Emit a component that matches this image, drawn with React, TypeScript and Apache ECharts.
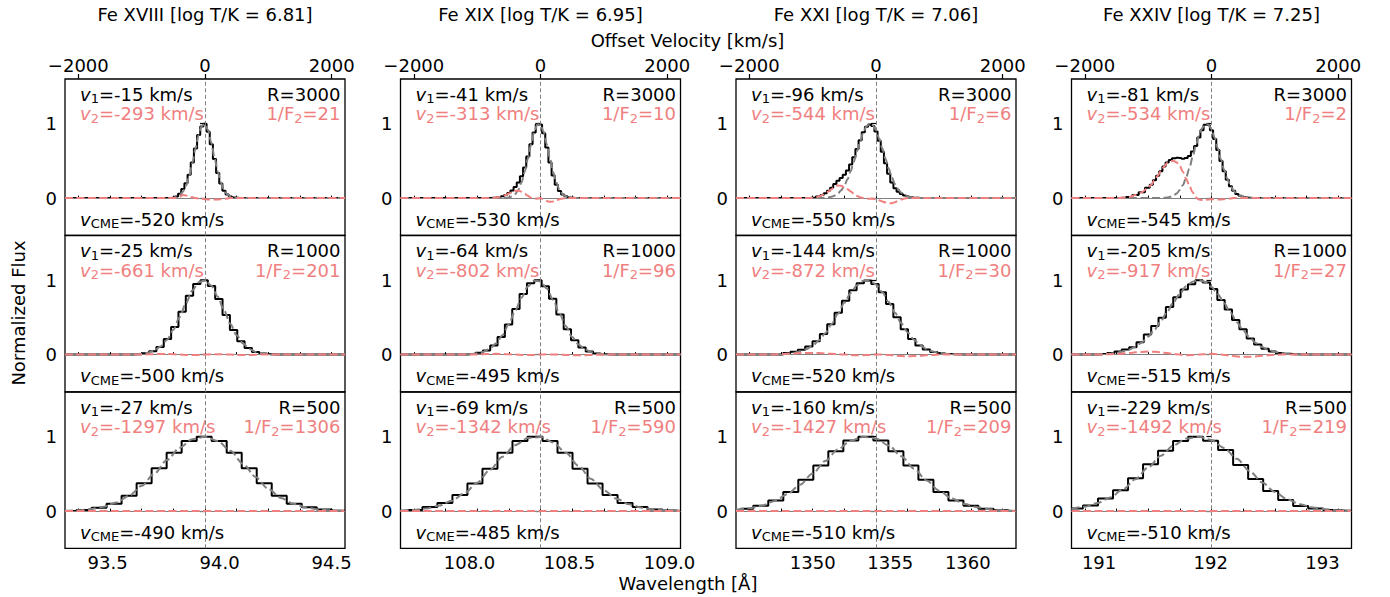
import React, { useEffect, useRef } from "react";
import * as echarts from "echarts";

const FONT = "'DejaVu Sans', sans-serif";
const RED = "#F08080";
const GRAY = "#808080";

// ---- layout ----
const PANEL_LEFT = [65, 400.5, 736, 1071.5];
const PANEL_TOP = [79, 235.5, 392];
const PANEL_W = 280;
const PANEL_H = 156.3;

// ---- axes ----
const V_MIN = -2210;
const V_MAX = 2210;
const Y_MIN = -0.5;
const Y_MAX = 1.6;
const velocityLabelTicks = [-2000, 0, 2000];
const velocityMinorTicks = [-2000, -1500, -1000, -500, 0, 500, 1000, 1500, 2000];
const fluxTicks = [0, 1];

const ionTitles = [
  "Fe XVIII [log T/K = 6.81]",
  "Fe XIX [log T/K = 6.95]",
  "Fe XXI [log T/K = 7.06]",
  "Fe XXIV [log T/K = 7.25]",
];
const waveMin = [93.31, 107.655, 1345.05, 190.753];
const waveMax = [94.56, 109.055, 1363.11, 193.26];
const waveTicks = [
  [93.5, 94.0, 94.5],
  [108.0, 108.5, 109.0],
  [1350, 1355, 1360],
  [191, 192, 193],
];
const waveDecimals = [1, 1, 0, 0];

// ---- annotations ----
const v1Values = [
  [-15, -41, -96, -81],
  [-25, -64, -144, -205],
  [-27, -69, -160, -229],
];
const v2Values = [
  [-293, -313, -544, -534],
  [-661, -802, -872, -917],
  [-1297, -1342, -1427, -1492],
];
const resolutions = [3000, 1000, 500];
const invF2Values = [
  [21, 10, 6, 2],
  [201, 96, 30, 27],
  [1306, 590, 209, 219],
];
const vCmeValues = [
  [-520, -530, -550, -545],
  [-500, -495, -520, -515],
  [-490, -485, -510, -510],
];

// ---- row 1 (R=3000) ----
const r1c1V = [-600, -550, -500, -450, -400, -350, -300, -250, -200, -150, -100, -50, 0, 50, 100, 150, 200, 250, 300, 350, 400, 450, 500, 550, 600];
const r1c1Black = [0, 0.002, 0.005, 0.02, 0.057, 0.123, 0.199, 0.312, 0.478, 0.667, 0.847, 0.963, 1.0, 0.891, 0.725, 0.526, 0.338, 0.195, 0.1, 0.047, 0.022, 0.008, 0.003, 0.001, 0];
const r1c1Gray = [0, 0.002, 0.005, 0.015, 0.037, 0.083, 0.164, 0.292, 0.468, 0.667, 0.852, 0.973, 0.995, 0.911, 0.745, 0.546, 0.358, 0.21, 0.11, 0.052, 0.022, 0.008, 0.003, 0.001, 0];
const r1c1Red = [0, 0, 0, 0.005, 0.02, 0.04, 0.035, 0.02, 0.01, 0, -0.005, -0.01, -0.015, -0.02, -0.02, -0.02, -0.02, -0.015, -0.01, -0.005, 0, 0, 0, 0, 0];

const r1c2V = [-800, -750, -700, -650, -600, -550, -500, -450, -400, -350, -300, -250, -200, -150, -100, -50, 0, 50, 100, 150, 200, 250, 300, 350, 400, 450, 500, 550, 600];
const r1c2Black = [0, 0.003, 0.008, 0.015, 0.026, 0.043, 0.069, 0.103, 0.148, 0.21, 0.293, 0.41, 0.558, 0.725, 0.88, 0.99, 0.99, 0.87, 0.68, 0.478, 0.305, 0.178, 0.095, 0.048, 0.023, 0.009, 0.003, 0.001, 0];
const r1c2Gray = [0, 0, 0, 0, 0.001, 0.003, 0.009, 0.023, 0.053, 0.11, 0.208, 0.35, 0.528, 0.72, 0.89, 0.987, 0.987, 0.89, 0.72, 0.528, 0.35, 0.208, 0.11, 0.053, 0.023, 0.009, 0.003, 0.001, 0];
const r1c2Red = [0, 0.003, 0.008, 0.015, 0.025, 0.04, 0.06, 0.08, 0.095, 0.1, 0.085, 0.06, 0.03, 0.005, -0.01, -0.005, 0, -0.02, -0.04, -0.05, -0.045, -0.03, -0.015, -0.005, 0, 0, 0, 0, 0];

const r1c3V = [-1100, -1000, -900, -850, -800, -750, -700, -650, -600, -550, -500, -450, -400, -350, -300, -250, -200, -150, -100, -50, 0, 50, 100, 150, 200, 250, 300, 350, 400, 450, 500, 550, 600, 650, 700, 750];
const r1c3Black = [0, 0.005, 0.021, 0.042, 0.064, 0.099, 0.138, 0.19, 0.232, 0.269, 0.312, 0.372, 0.45, 0.547, 0.66, 0.776, 0.883, 0.96, 0.99, 0.97, 0.896, 0.77, 0.622, 0.468, 0.326, 0.21, 0.132, 0.084, 0.054, 0.035, 0.022, 0.011, 0.006, 0.003, 0.001, 0];
const r1c3Gray = [0, 0, 0.001, 0.002, 0.004, 0.009, 0.018, 0.035, 0.062, 0.104, 0.167, 0.252, 0.36, 0.487, 0.63, 0.766, 0.883, 0.965, 1.0, 0.98, 0.911, 0.8, 0.667, 0.528, 0.396, 0.278, 0.187, 0.119, 0.072, 0.041, 0.022, 0.011, 0.006, 0.003, 0.001, 0];
const r1c3Red = [0, 0.005, 0.02, 0.04, 0.06, 0.09, 0.12, 0.155, 0.17, 0.165, 0.145, 0.12, 0.09, 0.06, 0.03, 0.01, 0, -0.005, -0.01, -0.01, -0.015, -0.03, -0.045, -0.06, -0.07, -0.068, -0.055, -0.035, -0.018, -0.006, 0, 0, 0, 0, 0, 0];

const r1c4V = [-1500, -1400, -1300, -1200, -1100, -1000, -950, -900, -850, -800, -750, -700, -650, -600, -550, -500, -450, -400, -350, -300, -250, -200, -150, -100, -50, 0, 50, 100, 150, 200, 250, 300, 350, 400, 450, 500, 550, 600, 650, 700];
const r1c4Black = [0, 0.005, 0.015, 0.04, 0.08, 0.14, 0.18, 0.24, 0.301, 0.362, 0.424, 0.478, 0.512, 0.534, 0.542, 0.54, 0.527, 0.538, 0.566, 0.626, 0.7, 0.815, 0.912, 0.985, 0.98, 0.91, 0.795, 0.647, 0.498, 0.362, 0.247, 0.16, 0.099, 0.056, 0.03, 0.015, 0.007, 0.003, 0.001, 0];
const r1c4Gray = [0, 0, 0, 0, 0, 0, 0, 0, 0.001, 0.002, 0.004, 0.008, 0.017, 0.034, 0.062, 0.11, 0.177, 0.278, 0.396, 0.546, 0.691, 0.835, 0.937, 0.995, 0.989, 0.925, 0.81, 0.667, 0.518, 0.377, 0.257, 0.165, 0.099, 0.056, 0.03, 0.015, 0.007, 0.003, 0.001, 0];
const r1c4Red = [0, 0.005, 0.015, 0.04, 0.08, 0.14, 0.18, 0.24, 0.3, 0.36, 0.42, 0.47, 0.495, 0.5, 0.48, 0.43, 0.35, 0.26, 0.17, 0.08, 0.01, -0.02, -0.025, -0.025, -0.02, -0.015, -0.015, -0.02, -0.02, -0.015, -0.01, -0.005, 0, 0, 0, 0, 0, 0, 0, 0];

// ---- row 2 (R=1000) ----
const r2BinsC1 = [-1057, -941, -825, -709, -593, -477, -361, -245, -129, -13, 103, 219, 335, 451, 567, 683, 799, 915, 1031];
const r2FluxC1 = [0.005, 0.017, 0.044, 0.101, 0.208, 0.37, 0.576, 0.789, 0.949, 0.999, 0.923, 0.748, 0.531, 0.33, 0.18, 0.087, 0.036, 0.013, 0.004];
const r2BinsC2 = [-1084, -968, -852, -736, -620, -504, -388, -272, -156, -40, 76, 192, 308, 424, 540, 656, 772, 888, 1004];
const r2FluxC2 = [0.008, 0.023, 0.056, 0.122, 0.236, 0.405, 0.613, 0.814, 0.958, 0.998, 0.919, 0.749, 0.537, 0.34, 0.191, 0.095, 0.042, 0.016, 0.006];
const r2BinsC3 = [-1408, -1292, -1176, -1060, -944, -828, -712, -596, -480, -364, -248, -132, -16, 100, 216, 332, 448, 564, 680, 796, 912, 1028, 1144, 1260];
const r2FluxC3 = [0.02, 0.037, 0.066, 0.109, 0.178, 0.275, 0.406, 0.562, 0.723, 0.866, 0.96, 0.995, 0.95, 0.839, 0.679, 0.503, 0.339, 0.21, 0.121, 0.067, 0.035, 0.018, 0.008, 0.003];
const r2BinsC4 = [-1706, -1590, -1474, -1358, -1242, -1126, -1010, -894, -778, -662, -546, -430, -314, -198, -82, 34, 150, 266, 382, 498, 614, 730, 846, 962, 1078, 1194, 1310];
const r2FluxC4 = [0.008, 0.02, 0.042, 0.07, 0.1, 0.165, 0.27, 0.385, 0.495, 0.64, 0.77, 0.875, 0.945, 1.0, 0.97, 0.88, 0.735, 0.605, 0.465, 0.34, 0.215, 0.135, 0.08, 0.04, 0.022, 0.012, 0.005];

const r2ModelV12 = [-1300, -1200, -1100, -1000, -900, -800, -700, -600, -500, -400, -300, -200, -100, 0, 100, 200, 300, 400, 500, 600, 700, 800, 900, 1000, 1100, 1200, 1300];
const r2c1Gray = [0, 0.001, 0.004, 0.01, 0.024, 0.054, 0.108, 0.198, 0.334, 0.504, 0.691, 0.86, 0.973, 0.997, 0.927, 0.782, 0.594, 0.412, 0.26, 0.149, 0.076, 0.036, 0.015, 0.006, 0.002, 0.001, 0];
const r2c1Red = [0, 0, 0, 0, 0.003, 0.006, 0.008, 0.008, 0.005, 0, -0.004, -0.006, -0.005, 0, 0.004, 0.005, 0.003, 0, -0.004, -0.006, -0.005, -0.003, 0, 0, 0, 0, 0];
const r2c2Gray = [0.001, 0.003, 0.007, 0.017, 0.039, 0.081, 0.152, 0.261, 0.412, 0.588, 0.766, 0.915, 0.993, 0.984, 0.889, 0.732, 0.551, 0.38, 0.236, 0.135, 0.071, 0.033, 0.014, 0.006, 0.002, 0.001, 0];
const r2c2Red = [0, 0, 0, 0.002, 0.005, 0.008, 0.01, 0.008, 0.004, 0, -0.004, -0.006, -0.004, 0, 0.003, 0.002, 0, -0.004, -0.008, -0.01, -0.008, -0.005, -0.002, 0, 0, 0, 0];
const r2ModelV3 = [-1700, -1600, -1500, -1400, -1300, -1200, -1100, -1000, -900, -800, -700, -600, -500, -400, -300, -200, -100, 0, 100, 200, 300, 400, 500, 600, 700, 800, 900, 1000, 1100, 1200, 1300, 1400];
const r2c3Gray = [0.001, 0.002, 0.005, 0.01, 0.021, 0.04, 0.071, 0.12, 0.191, 0.288, 0.41, 0.55, 0.695, 0.829, 0.933, 0.992, 0.994, 0.94, 0.839, 0.706, 0.561, 0.42, 0.298, 0.198, 0.125, 0.074, 0.042, 0.022, 0.011, 0.005, 0.002, 0.001];
const r2c3Red = [0, 0.002, 0.005, 0.01, 0.015, 0.02, 0.02, 0.02, 0.02, 0.015, 0.01, 0.005, 0, -0.005, -0.01, -0.008, -0.005, 0, 0, -0.005, -0.01, -0.02, -0.022, -0.02, -0.015, -0.008, -0.004, 0, 0, 0, 0, 0];
const r2ModelV4 = [-1900, -1800, -1700, -1600, -1500, -1400, -1300, -1200, -1100, -1000, -900, -800, -700, -600, -500, -400, -300, -200, -100, 0, 100, 200, 300, 400, 500, 600, 700, 800, 900, 1000, 1100, 1200, 1300, 1400, 1500];
const r2c4Gray = [0.0015, 0.003, 0.006, 0.012, 0.022, 0.04, 0.066, 0.106, 0.164, 0.24, 0.335, 0.447, 0.576, 0.703, 0.82, 0.918, 0.98, 1.0, 0.976, 0.909, 0.81, 0.69, 0.564, 0.435, 0.325, 0.232, 0.155, 0.101, 0.063, 0.038, 0.021, 0.011, 0.006, 0.003, 0.001];
const r2c4Red = [0, 0, 0.002, 0.005, 0.01, 0.015, 0.022, 0.03, 0.036, 0.04, 0.037, 0.03, 0.02, 0.01, 0, -0.01, -0.006, 0, 0.006, 0.01, 0.005, -0.005, -0.015, -0.025, -0.03, -0.03, -0.025, -0.015, -0.008, -0.003, 0, 0, 0, 0, 0];

// ---- row 3 (R=500) ----
const r3BinsC1 = [-1909, -1672, -1435, -1198, -961, -724, -487, -250, -13, 224, 461, 698, 935, 1172, 1409, 1646, 1883, 2120];
const r3FluxC1 = [0.013, 0.045, 0.1, 0.205, 0.375, 0.575, 0.785, 0.94, 1.0, 0.94, 0.785, 0.575, 0.375, 0.205, 0.1, 0.05, 0.02, 0.006];
const r3BinsC2 = [-1983, -1746, -1509, -1272, -1035, -798, -561, -324, -87, 150, 387, 624, 861, 1098, 1335, 1572, 1809, 2046];
const r3FluxC2 = [0.015, 0.055, 0.11, 0.215, 0.37, 0.57, 0.785, 0.94, 1.0, 0.94, 0.785, 0.57, 0.37, 0.215, 0.11, 0.055, 0.02, 0.008];
const r3BinsC3 = [-2056, -1819, -1582, -1345, -1108, -871, -634, -397, -160, 77, 314, 551, 788, 1025, 1262, 1499, 1736, 1973];
const r3FluxC3 = [0.031, 0.071, 0.142, 0.258, 0.42, 0.614, 0.805, 0.947, 1.0, 0.947, 0.805, 0.614, 0.42, 0.258, 0.142, 0.071, 0.031, 0.012];
const r3BinsC4 = [-2147, -1910, -1673, -1436, -1199, -962, -725, -488, -251, -14, 223, 460, 697, 934, 1171, 1408, 1645, 1882, 2119];
const r3FluxC4 = [0.036, 0.076, 0.17, 0.28, 0.44, 0.63, 0.81, 0.94, 1.0, 0.946, 0.82, 0.62, 0.43, 0.27, 0.15, 0.07, 0.036, 0.013, 0.005];

const r3ModelV = [-2200, -2000, -1800, -1600, -1400, -1200, -1000, -800, -600, -400, -200, 0, 200, 400, 600, 800, 1000, 1200, 1400, 1600, 1800, 2000, 2200];
const r3c1Gray = [0.0044, 0.0113, 0.0276, 0.059, 0.115, 0.205, 0.339, 0.504, 0.685, 0.852, 0.966, 0.999, 0.943, 0.81, 0.636, 0.457, 0.297, 0.177, 0.097, 0.047, 0.021, 0.009, 0.003];
const r3c2Gray = [0.0064, 0.016, 0.036, 0.074, 0.138, 0.24, 0.38, 0.552, 0.731, 0.886, 0.981, 0.995, 0.923, 0.783, 0.607, 0.43, 0.278, 0.167, 0.091, 0.045, 0.02, 0.008, 0.003];
const r3c3Gray = [0.018, 0.038, 0.074, 0.135, 0.227, 0.354, 0.505, 0.673, 0.83, 0.946, 0.998, 0.976, 0.882, 0.738, 0.57, 0.412, 0.273, 0.168, 0.095, 0.051, 0.025, 0.011, 0.005];
const r3c4Gray = [0.03, 0.059, 0.108, 0.184, 0.291, 0.429, 0.587, 0.744, 0.883, 0.974, 0.999, 0.954, 0.847, 0.702, 0.539, 0.385, 0.256, 0.158, 0.091, 0.049, 0.025, 0.011, 0.005];
const r3Red = [0, 0, 0, 0, 0, 0, 0, 0, 0, 0, 0, 0, 0, 0, 0, 0, 0, 0, 0, 0, 0, 0, 0];

type Panel = { binV: number[]; binF: number[]; modelV: number[]; grayF: number[]; redF: number[] };

const panelRows: Panel[][] = [
  [
    { binV: r1c1V, binF: r1c1Black, modelV: r1c1V, grayF: r1c1Gray, redF: r1c1Red },
    { binV: r1c2V, binF: r1c2Black, modelV: r1c2V, grayF: r1c2Gray, redF: r1c2Red },
    { binV: r1c3V, binF: r1c3Black, modelV: r1c3V, grayF: r1c3Gray, redF: r1c3Red },
    { binV: r1c4V, binF: r1c4Black, modelV: r1c4V, grayF: r1c4Gray, redF: r1c4Red },
  ],
  [
    { binV: r2BinsC1, binF: r2FluxC1, modelV: r2ModelV12, grayF: r2c1Gray, redF: r2c1Red },
    { binV: r2BinsC2, binF: r2FluxC2, modelV: r2ModelV12, grayF: r2c2Gray, redF: r2c2Red },
    { binV: r2BinsC3, binF: r2FluxC3, modelV: r2ModelV3, grayF: r2c3Gray, redF: r2c3Red },
    { binV: r2BinsC4, binF: r2FluxC4, modelV: r2ModelV4, grayF: r2c4Gray, redF: r2c4Red },
  ],
  [
    { binV: r3BinsC1, binF: r3FluxC1, modelV: r3ModelV, grayF: r3c1Gray, redF: r3Red },
    { binV: r3BinsC2, binF: r3FluxC2, modelV: r3ModelV, grayF: r3c2Gray, redF: r3Red },
    { binV: r3BinsC3, binF: r3FluxC3, modelV: r3ModelV, grayF: r3c3Gray, redF: r3Red },
    { binV: r3BinsC4, binF: r3FluxC4, modelV: r3ModelV, grayF: r3c4Gray, redF: r3Red },
  ],
];

function stepData(xs: number[], ys: number[]) {
  const w = xs[1] - xs[0];
  const pts: number[][] = xs.map((x, i) => [x, ys[i]]);
  const first = xs[0];
  const last = xs[xs.length - 1];
  const pre: number[][] = first - w / 2 <= V_MIN ? [[V_MIN, ys[0]]] : first - w <= V_MIN ? [[V_MIN, 0]] : [[V_MIN, 0], [first - w, 0]];
  const post: number[][] = last + w / 2 >= V_MAX ? [[V_MAX, ys[ys.length - 1]]] : last + w >= V_MAX ? [[V_MAX, 0]] : [[last + w, 0], [V_MAX, 0]];
  return [...pre, ...pts, ...post];
}

function curveData(xs: number[], ys: number[]) {
  const pts: number[][] = xs.map((x, i) => [x, ys[i]]);
  return [[V_MIN, ys[0]], ...pts, [V_MAX, ys[ys.length - 1]]];
}

function rich(color: string) {
  return {
    n: { fill: color, fontFamily: FONT, fontSize: 18, lineHeight: 22 },
    i: { fill: color, fontFamily: FONT, fontSize: 18, lineHeight: 22, fontStyle: "italic" },
    s: { fill: color, fontFamily: FONT, fontSize: 13, lineHeight: 14, verticalAlign: "bottom" },
  };
}

function textEl(x: number, y: number, text: string, color: string, align: string) {
  return {
    type: "text",
    x,
    y,
    silent: true,
    style: { text, rich: rich(color), fill: color, fontFamily: FONT, fontSize: 18, align, verticalAlign: "middle" },
  };
}

function plainText(x: number, y: number, text: string, rotation = 0) {
  return {
    type: "text",
    x,
    y,
    rotation,
    silent: true,
    style: { text, fill: "#000", fontFamily: FONT, fontSize: 18, align: "center", verticalAlign: "middle" },
  };
}

function minusFmt(v: number) {
  return v < 0 ? "\u2212" + Math.abs(v) : String(v);
}

function buildOption() {
  const grid: any[] = [];
  const xAxis: any[] = [];
  const yAxis: any[] = [];
  const series: any[] = [];
  const elements: any[] = [];

  for (let r = 0; r < 3; r++) {
    for (let c = 0; c < 4; c++) {
      const gi = r * 4 + c;
      const left = PANEL_LEFT[c];
      const top = PANEL_TOP[r];
      grid.push({
        left,
        top,
        width: PANEL_W,
        height: PANEL_H,
        show: true,
        borderColor: "#000",
        borderWidth: 1.3,
        backgroundColor: "rgba(0,0,0,0)",
        containLabel: false,
        outerBoundsMode: "none",
      });
      const mainX = xAxis.length;
      xAxis.push({
        type: "value",
        gridIndex: gi,
        position: "top",
        min: V_MIN,
        max: V_MAX,
        axisLine: { show: false },
        splitLine: { show: false },
        axisTick: { show: true, customValues: velocityMinorTicks, length: 2.5, lineStyle: { color: "#000", width: 1 } },
        axisLabel: { show: false },
      });
      if (r === 0) {
        xAxis.push({
          type: "value",
          gridIndex: gi,
          position: "top",
          min: V_MIN,
          max: V_MAX,
          axisLine: { show: false },
          splitLine: { show: false },
          axisTick: { show: true, customValues: velocityLabelTicks, length: 5, lineStyle: { color: "#000", width: 1.2 } },
          axisLabel: {
            show: true,
            customValues: velocityLabelTicks,
            formatter: minusFmt,
            fontFamily: FONT,
            fontSize: 18,
            color: "#000",
            margin: 5,
          },
        });
      }
      if (r === 2) {
        const dec = waveDecimals[c];
        xAxis.push({
          type: "value",
          gridIndex: gi,
          position: "bottom",
          min: waveMin[c],
          max: waveMax[c],
          axisLine: { show: false },
          splitLine: { show: false },
          axisTick: { show: false },
          axisLabel: {
            show: true,
            customValues: waveTicks[c],
            formatter: (v: number) => v.toFixed(dec),
            fontFamily: FONT,
            fontSize: 18,
            color: "#000",
            margin: 5,
          },
        });
      }
      yAxis.push({
        type: "value",
        gridIndex: gi,
        min: Y_MIN,
        max: Y_MAX,
        axisLine: { show: false },
        splitLine: { show: false },
        axisTick: { show: true, customValues: fluxTicks, length: 5, lineStyle: { color: "#000", width: 1.2 } },
        axisLabel: {
          show: true,
          customValues: fluxTicks,
          formatter: (v: number) => String(v),
          fontFamily: FONT,
          fontSize: 18,
          color: "#000",
          margin: 8,
        },
      });

      const p = panelRows[r][c];
      series.push({
        type: "line",
        xAxisIndex: mainX,
        yAxisIndex: gi,
        step: "middle",
        data: stepData(p.binV, p.binF),
        symbol: "none",
        showSymbol: false,
        lineStyle: { color: "#000", width: 2 },
        z: 2,
        silent: true,
      });
      series.push({
        type: "line",
        xAxisIndex: mainX,
        yAxisIndex: gi,
        data: [[0, 0]],
        symbol: "none",
        showSymbol: false,
        lineStyle: { opacity: 0 },
        z: 3,
        silent: true,
        markLine: {
          silent: true,
          symbol: ["none", "none"],
          label: { show: false },
          animation: false,
          data: [
            { yAxis: 0, lineStyle: { color: GRAY, width: 1.2, type: "solid" } },
            { xAxis: 0, lineStyle: { color: GRAY, width: 1, type: [4, 2.5] } },
          ],
        },
      });
      series.push({
        type: "line",
        xAxisIndex: mainX,
        yAxisIndex: gi,
        data: curveData(p.modelV, p.grayF),
        smooth: 0.3,
        smoothMonotone: "x",
        symbol: "none",
        showSymbol: false,
        lineStyle: { color: GRAY, width: 2, type: [8, 3.5] },
        z: 4,
        silent: true,
      });
      series.push({
        type: "line",
        xAxisIndex: mainX,
        yAxisIndex: gi,
        data: curveData(p.modelV, p.redF),
        smooth: 0.3,
        smoothMonotone: "x",
        symbol: "none",
        showSymbol: false,
        lineStyle: { color: RED, width: 2, type: [8, 3.5] },
        z: 5,
        silent: true,
      });

      // annotations
      const tx = left + 15;
      const rx = left + PANEL_W - 4.5;
      elements.push(textEl(tx, top + 15, `{i|v}{s|1}{n|=${v1Values[r][c]} km/s}`, "#000", "left"));
      elements.push(textEl(tx, top + 34.5, `{i|v}{s|2}{n|=${v2Values[r][c]} km/s}`, RED, "left"));
      elements.push(textEl(rx, top + 15, `{n|R=${resolutions[r]}}`, "#000", "right"));
      elements.push(textEl(rx, top + 34.5, `{n|1/F}{s|2}{n|=${invF2Values[r][c]}}`, RED, "right"));
      elements.push(textEl(tx, top + PANEL_H - 16, `{i|v}{s|CME}{n|=${vCmeValues[r][c]} km/s}`, "#000", "left"));
    }
  }

  for (let c = 0; c < 4; c++) {
    elements.push(plainText(PANEL_LEFT[c] + PANEL_W / 2, 14, ionTitles[c]));
  }
  elements.push(plainText(687.5, 40, "Offset Velocity [km/s]"));
  elements.push(plainText(688, 583, "Wavelength [Å]"));
  elements.push(plainText(18, 313, "Normalized Flux", Math.PI / 2));

  return {
    animation: false,
    backgroundColor: "#fff",
    grid,
    xAxis,
    yAxis,
    series,
    graphic: { elements },
  };
}

export default function App() {
  const ref = useRef<HTMLDivElement>(null);
  useEffect(() => {
    if (!ref.current) return;
    const chart = echarts.init(ref.current, undefined, { renderer: "svg" });
    chart.setOption(buildOption() as any);
    return () => chart.dispose();
  }, []);
  return (
    <div
      ref={ref}
      style={{ position: "fixed", left: 0, top: 0, width: 1390, height: 597, background: "#fff" }}
    />
  );
}
